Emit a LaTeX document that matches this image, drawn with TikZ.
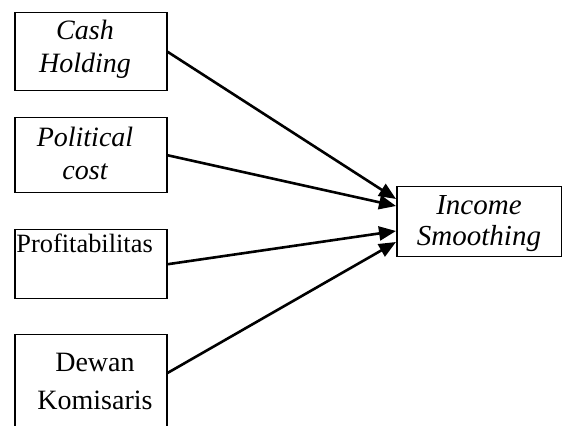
\documentclass[tikz,border=0pt]{standalone}
\usepackage{fontspec}
\setmainfont{Liberation Serif}
\usepackage{tikz}
\usetikzlibrary{calc}
\usetikzlibrary{positioning}
\usetikzlibrary{arrows.meta}

\tikzset{
  box/.style={draw, line width=0.75pt, minimum width=76pt, anchor=north west, inner sep=0pt},
  vartxt/.style={font=\fontsize{14}{16.5}\selectfont, align=center, anchor=base, inner sep=0pt},
  link/.style={line width=1.3pt, -{Triangle[length=8.5pt,width=7pt]}}
}

\begin{document}
\begin{tikzpicture}[x=0.5pt,y=-0.5pt]
\useasboundingbox (0,0) rectangle (562,426);
\clip (0,0) rectangle (562,426);

% independent variables
\node[box, minimum height=39pt] (cash) at (14,12) {};
\node[box, minimum height=37.5pt] (political) at (14,117) {};
\node[box, minimum height=34.5pt] (profit) at (14,229) {};
\node[box, minimum height=50pt] (dewan) at (14,334) {};

% dependent variable
\node[box, minimum width=82.5pt, minimum height=35pt] (income) at (396,186) {};

% base anchor = last line
\node[vartxt, font=\fontsize{14}{16.5}\selectfont\itshape] (cashtxt) at (85,73) {Cash\\Holding};
\node[vartxt, font=\fontsize{14}{16.5}\selectfont\itshape] (politicaltxt) at (85,180) {Political\\cost};
\node[vartxt, font=\fontsize{13.2}{16.5}\selectfont, anchor=base west] (profittxt) at (16,253) {Profitabilitas};
\node[vartxt] (dewantxt) at (95,410) {Dewan\\[2.5pt]Komisaris};
\node[vartxt, font=\fontsize{14.5}{15.5}\selectfont\itshape] (incometxt) at (479,246) {Income\\Smoothing};

% hypotheses
\draw[link] (cash.east) -- ($(income.north west)+(0,13)$);
\draw[link] (political.east) -- ($(income.north west)+(0,20)$);
\draw[link] (profit.east) -- ($(income.north west)+(0,45)$);
\draw[link] ($(dewan.north east)+(0,39)$) -- ($(income.north west)+(0,56)$);

\end{tikzpicture}
\end{document}
